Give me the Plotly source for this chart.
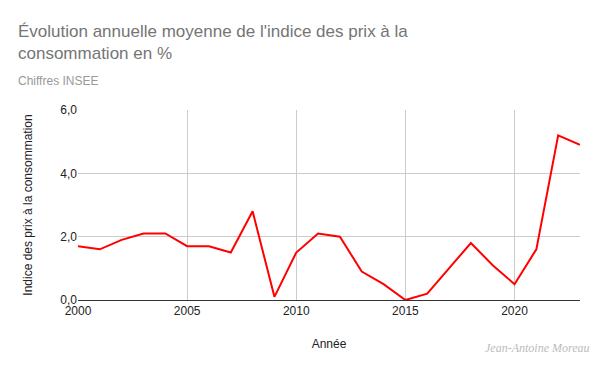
import plotly.graph_objects as go

years = list(range(2000, 2024))
inflation = [1.7, 1.6, 1.9, 2.1, 2.1, 1.7, 1.7, 1.5, 2.8, 0.1, 1.5, 2.1, 2.0, 0.9, 0.5, 0.0,
             0.2, 1.0, 1.8, 1.1, 0.5, 1.6, 5.2, 4.9]
x_ticks = [2000, 2005, 2010, 2015, 2020]
y_ticks = [0, 2, 4, 6]
y_tick_labels = ["0,0", "2,0", "4,0", "6,0"]

OFF = 8  # page body margin
W, H = 600 - OFF, 371 - OFF
L, T = 78 - OFF, 110 - OFF
R = W - (580 - OFF)
B = H - (300 - OFF)
PW, PH = W - L - R, H - T - B


def px(x):
    return (x - OFF - L) / PW


def py(y):
    return (H - B - (y - OFF)) / PH


fig = go.Figure()
fig.add_trace(go.Scatter(x=years, y=inflation, mode="lines",
                         line=dict(color="#ff0000", width=2), showlegend=False))

fig.update_layout(
    width=W, height=H,
    margin=dict(l=L, r=R, t=T, b=B, autoexpand=False),
    paper_bgcolor="white", plot_bgcolor="white",
    font=dict(family="Arial, Liberation Sans, sans-serif", size=12, color="#222222"),
    xaxis=dict(range=[2000, 2023], tickvals=x_ticks, ticktext=[str(v) for v in x_ticks],
               showgrid=True, gridcolor="#cccccc", gridwidth=1,
               showline=True, linecolor="#333333", linewidth=1,
               zeroline=False, ticks="", title=dict(text="Année", standoff=22,
               font=dict(size=12, color="#222222"))),
    yaxis=dict(range=[0, 6], tickvals=y_ticks, ticktext=y_tick_labels,
               showgrid=True, gridcolor="#cccccc", gridwidth=1,
               zeroline=False, ticks="", showline=False,
               title=dict(text="Indice des prix à la consommation", standoff=25,
                          font=dict(size=12, color="#222222"))),
)
fig.add_annotation(text="Évolution annuelle moyenne de l'indice des prix à la<br>consommation en %",
                   xref="paper", yref="paper", x=px(16), y=py(20), xanchor="left", yanchor="top",
                   align="left", showarrow=False,
                   font=dict(family="Arial, Liberation Sans, sans-serif", size=17, color="#757575"))
fig.add_annotation(text="Chiffres INSEE", xref="paper", yref="paper", x=px(16), y=py(72),
                   xanchor="left", yanchor="top", align="left", showarrow=False,
                   font=dict(family="Arial, Liberation Sans, sans-serif", size=12, color="#999999"))
fig.add_annotation(text="Jean-Antoine Moreau", xref="paper", yref="paper", x=px(592), y=py(348),
                   xanchor="right", yanchor="middle", showarrow=False,
                   font=dict(family="Liberation Serif, serif", size=12, color="#bbbbbb", style="italic"))

fig.write_html("out.html")
